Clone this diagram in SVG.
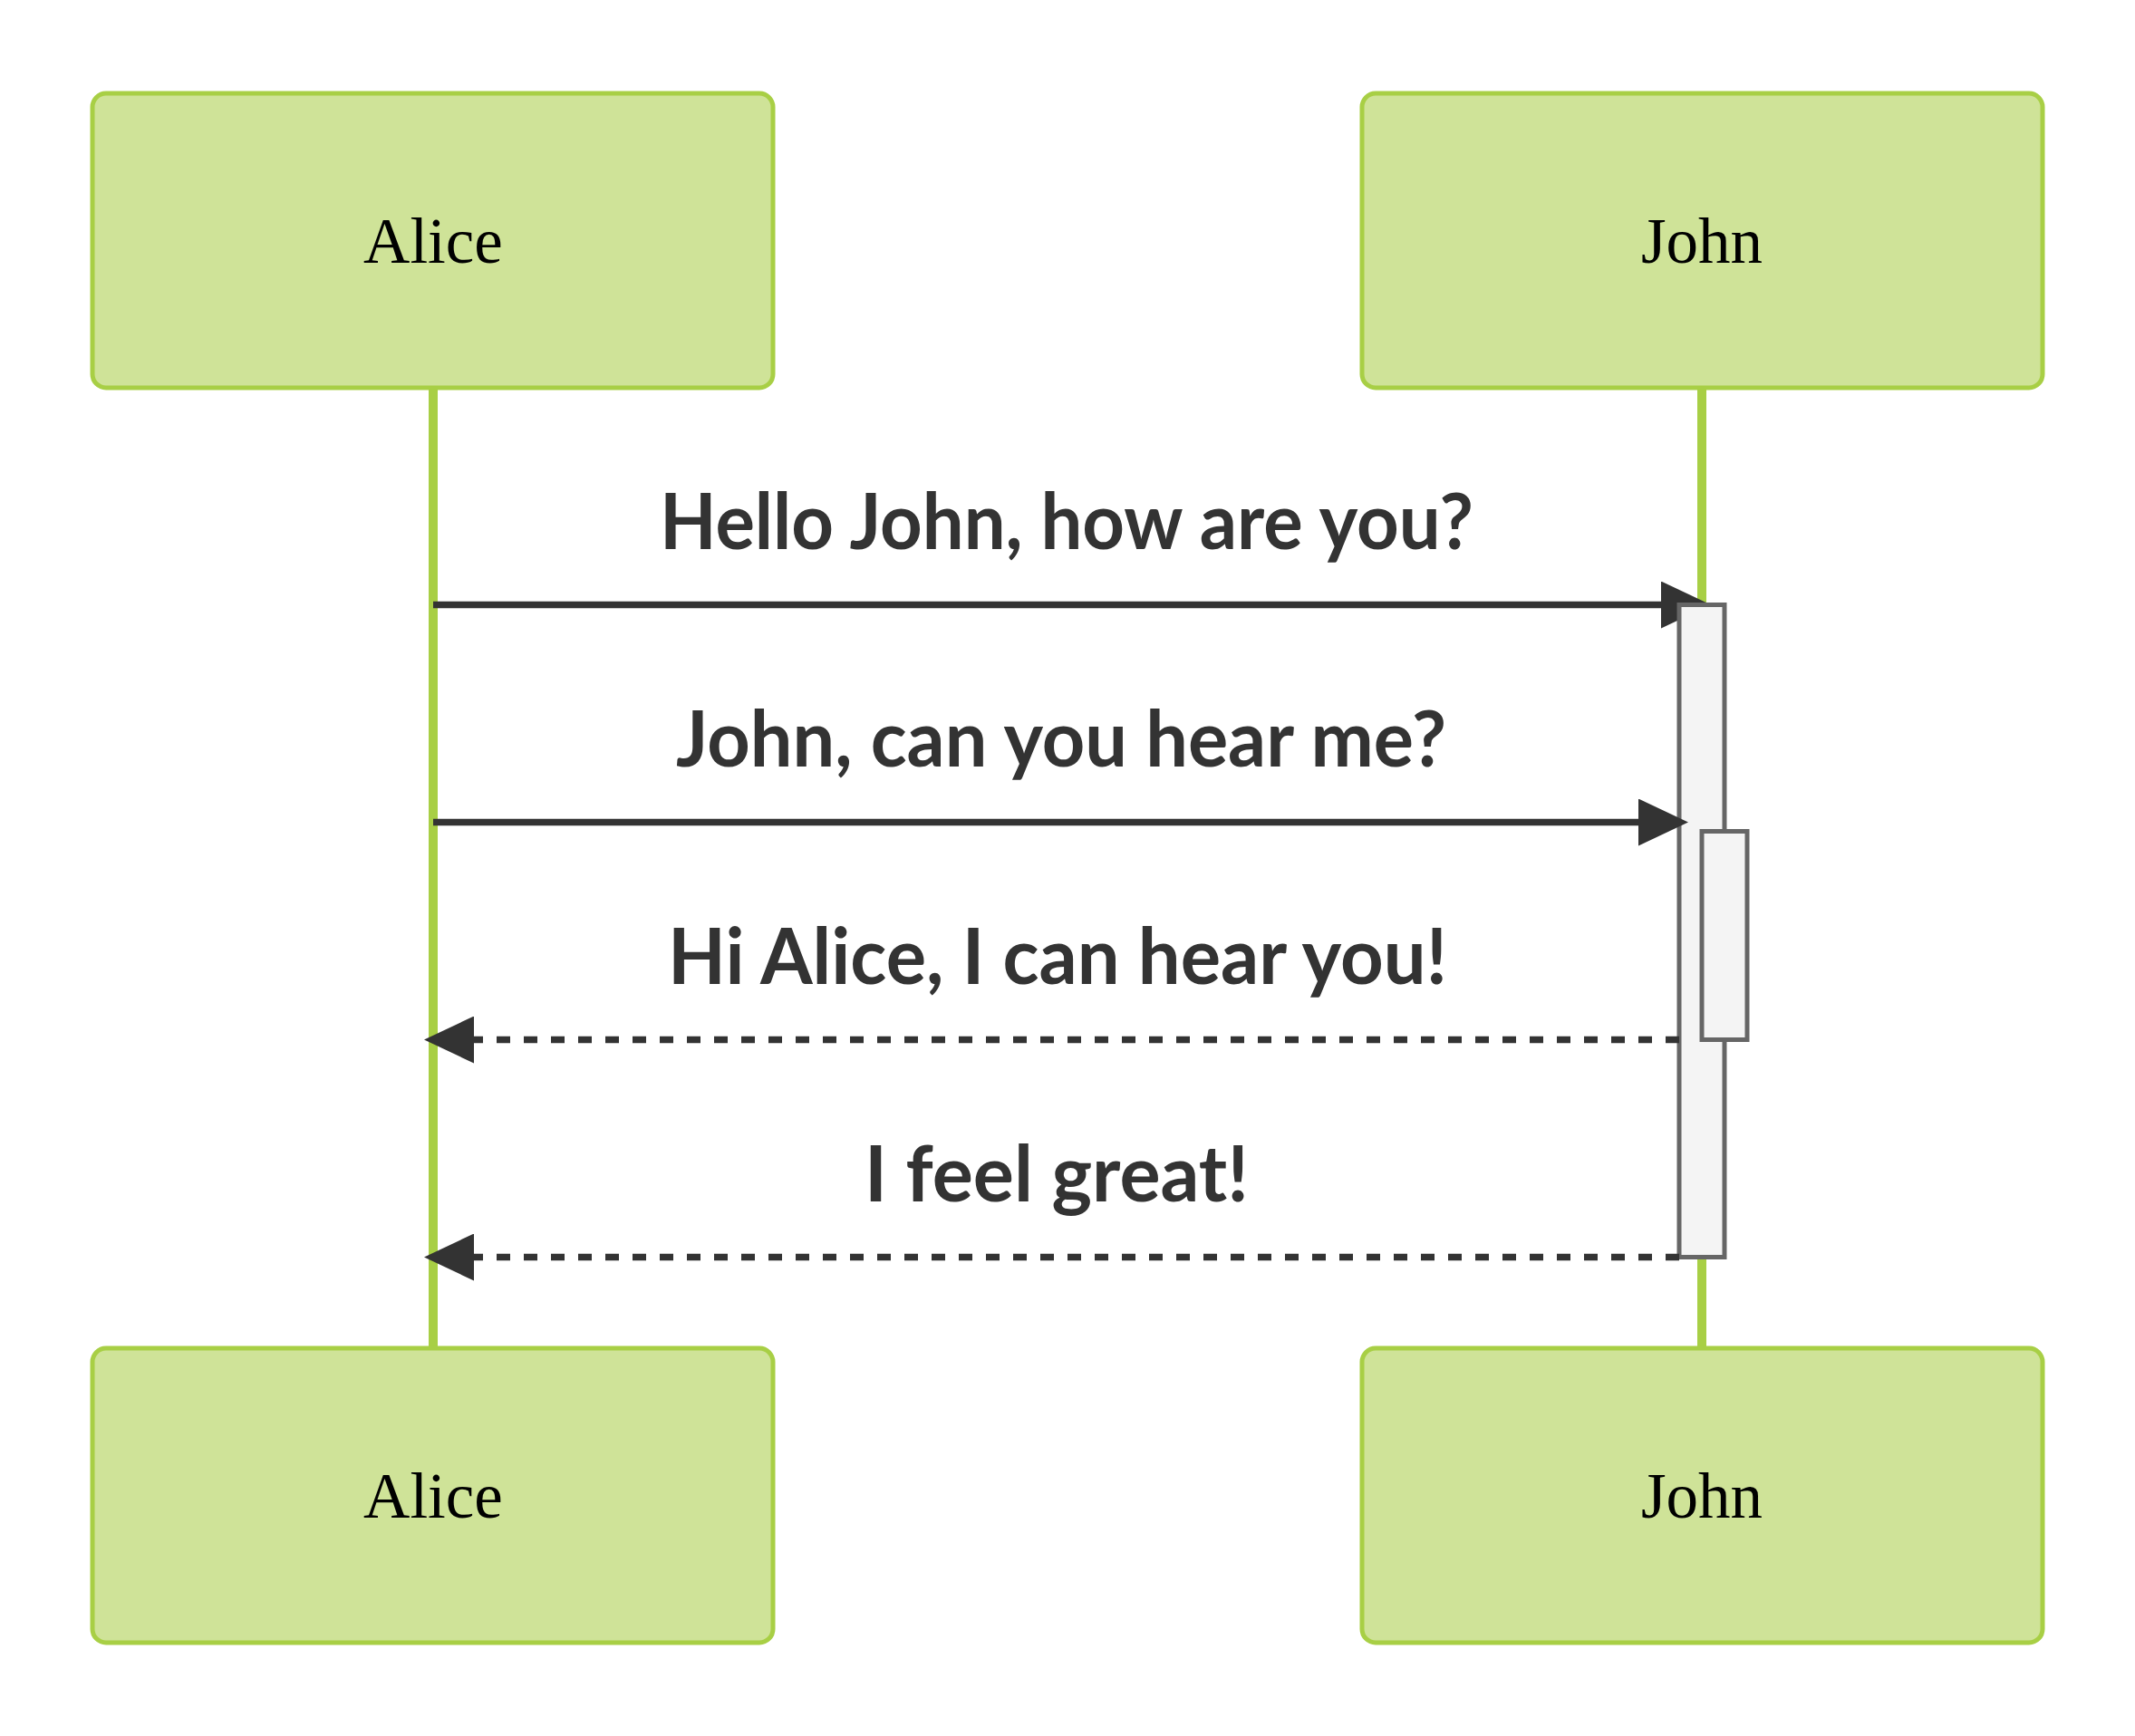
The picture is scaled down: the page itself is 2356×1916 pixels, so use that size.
<svg xmlns="http://www.w3.org/2000/svg" width="2356" height="1916" viewBox="0 0 2356 1916">
  <style>
    .actor { fill: #cfe398; stroke: #a8cf45; stroke-width: 5; }
    .actor-label { font-family: "Liberation Serif", "Times New Roman", serif; font-size: 71px; fill: #000000; text-anchor: middle; }
    .lifeline { stroke: #a8cf45; stroke-width: 10; fill: none; }
    .msg { stroke: #333333; stroke-width: 7.5; fill: none; }
    .msg-dotted { stroke-dasharray: 15 15; }
    .msg-label { font-family: Lato, "Open Sans", "Liberation Sans", sans-serif; font-weight: 700; font-size: 86px; fill: #333333; text-anchor: middle; }
    .activation { fill: #f4f4f4; stroke: #666666; stroke-width: 5; }
  </style>
  <defs>
    <marker id="arrowhead" markerUnits="userSpaceOnUse" viewBox="0 0 55 52" markerWidth="55" markerHeight="52" refX="0" refY="26" orient="auto">
      <path d="M0,0 L55,26 L0,52 Z" fill="#333333" stroke="none"/>
    </marker>
  </defs>

  <rect width="2356" height="1916" fill="#ffffff"/>

  <!-- lifelines -->
  <g id="lifelines">
    <line class="lifeline" x1="478" y1="428" x2="478" y2="1488"/>
    <line class="lifeline" x1="1878" y1="428" x2="1878" y2="1488"/>
  </g>

  <!-- participants, top row -->
  <g id="actor-alice-top">
    <rect class="actor" x="102" y="103" width="751" height="325" rx="15" ry="15"/>
    <text class="actor-label" x="478" y="290">Alice</text>
  </g>
  <g id="actor-john-top">
    <rect class="actor" x="1503" y="103" width="751" height="325" rx="15" ry="15"/>
    <text class="actor-label" x="1878" y="290">John</text>
  </g>

  <!-- participants, bottom row -->
  <g id="actor-alice-bottom">
    <rect class="actor" x="102" y="1488" width="751" height="325" rx="15" ry="15"/>
    <text class="actor-label" x="478" y="1675">Alice</text>
  </g>
  <g id="actor-john-bottom">
    <rect class="actor" x="1503" y="1488" width="751" height="325" rx="15" ry="15"/>
    <text class="actor-label" x="1878" y="1675">John</text>
  </g>

  <!-- messages and activations -->
  <g id="connectors">
    <g id="msg-1">
      <path class="msg" d="M478,667.5 L1833,667.5" marker-end="url(#arrowhead)"/>
      <text class="msg-label" x="1177" y="606" textLength="898" lengthAdjust="spacingAndGlyphs">Hello John, how are you?</text>
    </g>
  </g>

  <g id="activation-john-1">
    <rect class="activation" x="1853" y="667.5" width="50" height="720"/>
  </g>

  <g id="connectors-2">
    <g id="msg-2">
      <path class="msg" d="M478,907.5 L1808,907.5" marker-end="url(#arrowhead)"/>
      <text class="msg-label" x="1171" y="846" textLength="850" lengthAdjust="spacingAndGlyphs">John, can you hear me?</text>
    </g>
  </g>

  <g id="activation-john-2">
    <rect class="activation" x="1878" y="917.5" width="50" height="230"/>
  </g>

  <g id="connectors-3">
    <g id="msg-3">
      <path class="msg msg-dotted" d="M1853,1147.5 L523,1147.5" marker-end="url(#arrowhead)"/>
      <text class="msg-label" x="1167" y="1086" textLength="860" lengthAdjust="spacingAndGlyphs">Hi Alice, I can hear you!</text>
    </g>
    <g id="msg-4">
      <path class="msg msg-dotted" d="M1853,1387.5 L523,1387.5" marker-end="url(#arrowhead)"/>
      <text class="msg-label" x="1166" y="1326" textLength="424" lengthAdjust="spacingAndGlyphs">I feel great!</text>
    </g>
  </g>
</svg>
